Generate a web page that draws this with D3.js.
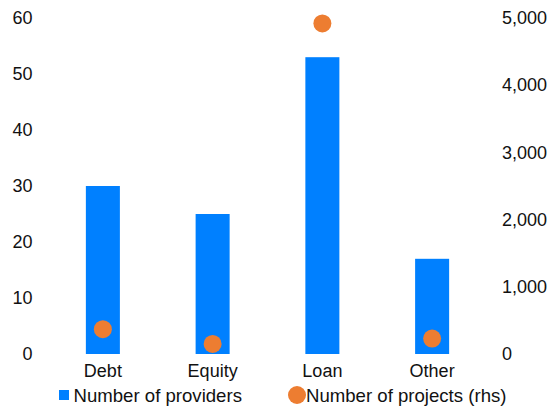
<!DOCTYPE html>
<html><head><meta charset="utf-8">
<script src="https://cdn.jsdelivr.net/npm/d3@7"></script>
<style>body{margin:0;background:#fff}svg{display:block}text{font-family:"Liberation Sans",Arial,sans-serif;fill:#111}</style>
</head><body><svg id="c" width="550" height="410"></svg>
<script>
const categories = ["Debt","Equity","Loan","Other"];
const providers = [30,25,53,17];
const projects = [370,150,4920,230];
const leftTicks = [0,10,20,30,40,50,60];
const rightTicks = [0,1000,2000,3000,4000,5000];
const seriesNames = ["Number of providers","Number of projects (rhs)"];

(function(){
const svg = d3.select("#c");
const pTop = 18, pBottom = 354, pLeft = 48, pRight = 487;
const fs = "18px", lfs = "18.6px";
const x = d3.scaleBand().domain(categories).range([pLeft,pRight]).paddingInner(0.69).paddingOuter(0.345);
const yL = d3.scaleLinear().domain([0,60]).range([pBottom,pTop]);
const yR = d3.scaleLinear().domain([0,5000]).range([pBottom,pTop]);

svg.selectAll("rect.bar").data(categories).join("rect").attr("class","bar")
  .attr("x",d=>x(d)).attr("width",x.bandwidth())
  .attr("y",(d,i)=>yL(providers[i])).attr("height",(d,i)=>pBottom-yL(providers[i]))
  .attr("fill","#0080FF");

svg.selectAll("circle.pt").data(categories).join("circle").attr("class","pt")
  .attr("cx",d=>x(d)+x.bandwidth()/2).attr("cy",(d,i)=>yR(projects[i])).attr("r",9)
  .attr("fill","#ED7D31");

const gl = svg.append("g").attr("transform",`translate(32.5,0)`)
  .call(d3.axisLeft(yL).tickValues(leftTicks).tickSize(0).tickPadding(0));
const gr = svg.append("g").attr("transform",`translate(502,0)`)
  .call(d3.axisRight(yR).tickValues(rightTicks).tickSize(0).tickPadding(0).tickFormat(d3.format(",")));
const gx = svg.append("g").attr("transform",`translate(0,${pBottom})`)
  .call(d3.axisBottom(x).tickSize(0).tickPadding(10.5));
[gl,gr,gx].forEach(g=>{g.select(".domain").remove();g.selectAll("text").style("font-size",fs).style("font-family",'"Liberation Sans",Arial,sans-serif').attr("fill","#111");});

const lg = svg.append("g");
lg.append("rect").attr("x",59).attr("y",390).attr("width",10).attr("height",10).attr("fill","#0080FF");
lg.append("text").attr("x",73.5).attr("y",395).attr("dy","0.35em").style("font-size",lfs).text(seriesNames[0]);
lg.append("circle").attr("cx",297).attr("cy",395).attr("r",9).attr("fill","#ED7D31");
lg.append("text").attr("x",306).attr("y",395).attr("dy","0.35em").style("font-size",lfs).text(seriesNames[1]);
})();
</script></body></html>
